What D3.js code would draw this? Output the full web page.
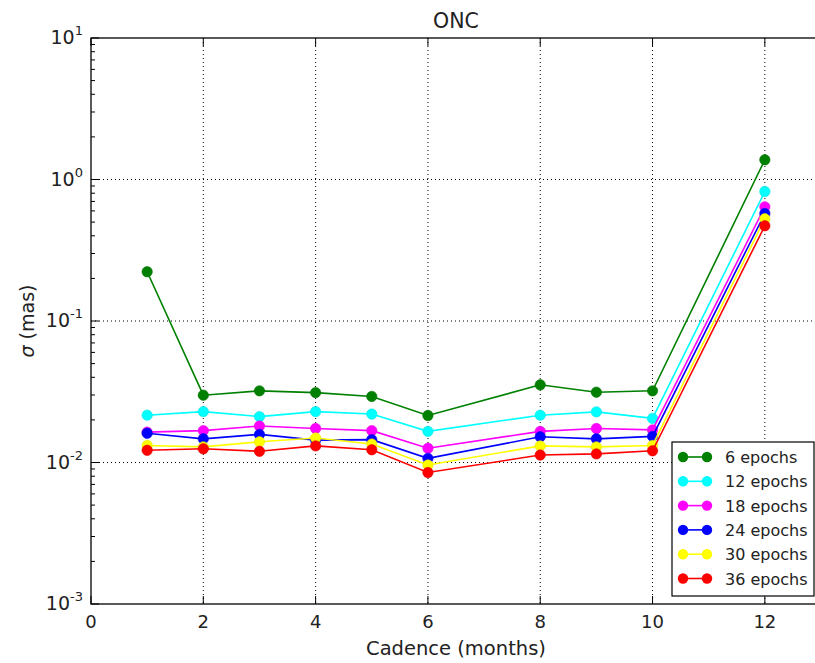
<!DOCTYPE html>
<html>
<head>
<meta charset="utf-8">
<script src="https://cdn.jsdelivr.net/npm/d3@7"></script>
<style>
  body { margin: 0; background: #fff; }
  svg { font-family: "DejaVu Sans", sans-serif; display: block; }
</style>
</head>
<body>
<div id="chart"></div>
<script>
// Cadence values (months)
const cadence = [1, 2, 3, 4, 5, 6, 8, 9, 10, 12];

// sigma (mas) per number of epochs
const epochs6  = [0.223, 0.0299, 0.0321, 0.0312, 0.0293, 0.0215, 0.0354, 0.0314, 0.0321, 1.378];
const epochs12 = [0.0216, 0.0229, 0.0211, 0.0229, 0.0220, 0.0166, 0.0216, 0.0228, 0.0205, 0.823];
const epochs18 = [0.0164, 0.0168, 0.0181, 0.0174, 0.0168, 0.0126, 0.0166, 0.0174, 0.0170, 0.641];
const epochs24 = [0.0161, 0.0147, 0.0158, 0.0144, 0.0145, 0.0107, 0.0152, 0.0147, 0.0153, 0.575];
const epochs30 = [0.0132, 0.0129, 0.0140, 0.0149, 0.0135, 0.0096, 0.0131, 0.0129, 0.0132, 0.528];
const epochs36 = [0.0122, 0.0125, 0.0120, 0.0131, 0.0123, 0.0085, 0.0113, 0.0115, 0.0121, 0.471];

const seriesNames  = ['6 epochs', '12 epochs', '18 epochs', '24 epochs', '30 epochs', '36 epochs'];
const seriesValues = [epochs6, epochs12, epochs18, epochs24, epochs30, epochs36];
const seriesColors = ['#008000', '#00ffff', '#ff00ff', '#0000ff', '#ffff00', '#ff0000'];

const xTicks = [0, 2, 4, 6, 8, 10, 12];
const yExponents = [-3, -2, -1, 0, 1];

const W = 815, H = 663;
const margin = { top: 38, left: 91 };
const plotW = 730, plotH = 566;

const svg = d3.select('#chart').append('svg')
    .attr('width', W)
    .attr('height', H);

const x = d3.scaleLinear().domain([0, 13]).range([0, plotW]);
const y = d3.scaleLog().domain([1e-3, 10]).range([plotH, 0]);

const g = svg.append('g')
    .attr('transform', `translate(${margin.left},${margin.top})`);

// grid lines (dotted)
g.append('g').selectAll('line')
    .data(xTicks.slice(1))
    .enter().append('line')
    .attr('x1', d => x(d)).attr('x2', d => x(d))
    .attr('y1', 0).attr('y2', plotH)
    .attr('stroke', '#000').attr('stroke-width', 1)
    .attr('stroke-dasharray', '1,3');

g.append('g').selectAll('line')
    .data(yExponents.slice(1, -1))
    .enter().append('line')
    .attr('x1', 0).attr('x2', plotW)
    .attr('y1', d => y(Math.pow(10, d))).attr('y2', d => y(Math.pow(10, d)))
    .attr('stroke', '#000').attr('stroke-width', 1)
    .attr('stroke-dasharray', '1,3');

// minor ticks on log axis
const minor = [];
for (let e = -3; e < 1; e++) {
    for (let k = 2; k <= 9; k++) minor.push(k * Math.pow(10, e));
}
g.append('g').selectAll('line')
    .data(minor)
    .enter().append('line')
    .attr('x1', 0).attr('x2', 4)
    .attr('y1', d => y(d)).attr('y2', d => y(d))
    .attr('stroke', '#000').attr('stroke-width', 1);

// major y ticks
g.append('g').selectAll('line')
    .data(yExponents)
    .enter().append('line')
    .attr('x1', 0).attr('x2', 8)
    .attr('y1', d => y(Math.pow(10, d))).attr('y2', d => y(Math.pow(10, d)))
    .attr('stroke', '#000').attr('stroke-width', 1);

// major x ticks (bottom and top, inward)
const xt = g.append('g');
xt.selectAll('line.b')
    .data(xTicks)
    .enter().append('line')
    .attr('x1', d => x(d)).attr('x2', d => x(d))
    .attr('y1', plotH).attr('y2', plotH - 8)
    .attr('stroke', '#000');
xt.selectAll('line.t')
    .data(xTicks)
    .enter().append('line')
    .attr('x1', d => x(d)).attr('x2', d => x(d))
    .attr('y1', 0).attr('y2', 8)
    .attr('stroke', '#000');

// frame
g.append('rect')
    .attr('x', 0).attr('y', 0)
    .attr('width', plotW).attr('height', plotH)
    .attr('fill', 'none').attr('stroke', '#000').attr('stroke-width', 1.3);

// x tick labels
g.append('g').selectAll('text')
    .data(xTicks)
    .enter().append('text')
    .attr('x', d => x(d))
    .attr('y', plotH + 24)
    .attr('text-anchor', 'middle')
    .attr('font-size', 18)
    .attr('fill', '#222')
    .text(d => d);

// y tick labels as 10^n
const yl = g.append('g').selectAll('text')
    .data(yExponents)
    .enter().append('text')
    .attr('x', -8)
    .attr('y', d => y(Math.pow(10, d)) + 6)
    .attr('text-anchor', 'end')
    .attr('font-size', 19)
    .attr('fill', '#222');
yl.append('tspan').text('10');
yl.append('tspan')
    .attr('font-size', 13)
    .attr('dy', -9)
    .text(d => d);

// axis titles
svg.append('text')
    .attr('x', margin.left + x(6.5))
    .attr('y', 28)
    .attr('text-anchor', 'middle')
    .attr('font-size', 20.5)
    .attr('fill', '#222')
    .text('ONC');

svg.append('text')
    .attr('x', margin.left + x(6.5))
    .attr('y', 655)
    .attr('text-anchor', 'middle')
    .attr('font-size', 19.5)
    .attr('fill', '#222')
    .text('Cadence (months)');

svg.append('text')
    .attr('transform', `translate(34,${margin.top + plotH / 2}) rotate(-90)`)
    .attr('text-anchor', 'middle')
    .attr('font-size', 19)
    .attr('fill', '#222')
    .html('<tspan font-style="italic">σ</tspan> (mas)');

// series
const line = d3.line()
    .x((d, i) => x(cadence[i]))
    .y(d => y(d));

seriesValues.forEach((vals, s) => {
    const sg = g.append('g');
    sg.append('path')
        .datum(vals)
        .attr('d', line)
        .attr('fill', 'none')
        .attr('stroke', seriesColors[s])
        .attr('stroke-width', 1.6);
    sg.selectAll('circle')
        .data(vals)
        .enter().append('circle')
        .attr('cx', (d, i) => x(cadence[i]))
        .attr('cy', d => y(d))
        .attr('r', 5.2)
        .attr('fill', seriesColors[s])
        .attr('stroke', d3.color(seriesColors[s]).darker(0.3))
        .attr('stroke-width', 0.6);
});

// legend
const lg = svg.append('g').attr('transform', 'translate(672,442)');
lg.append('rect')
    .attr('width', 142).attr('height', 154)
    .attr('fill', '#fff').attr('stroke', '#000').attr('stroke-width', 1.2);
const rows = lg.selectAll('g.row')
    .data(seriesNames)
    .enter().append('g')
    .attr('transform', (d, i) => `translate(0,${15 + i * 24.3})`);
rows.append('line')
    .attr('x1', 11).attr('x2', 35)
    .attr('stroke', (d, i) => seriesColors[i]).attr('stroke-width', 1.6);
[11, 35].forEach(cx => {
    rows.append('circle')
        .attr('cx', cx).attr('cy', 0).attr('r', 5.2)
        .attr('fill', (d, i) => seriesColors[i]);
});
rows.append('text')
    .attr('x', 53).attr('y', 6)
    .attr('font-size', 16)
    .attr('fill', '#222')
    .text(d => d);
</script>
</body>
</html>
